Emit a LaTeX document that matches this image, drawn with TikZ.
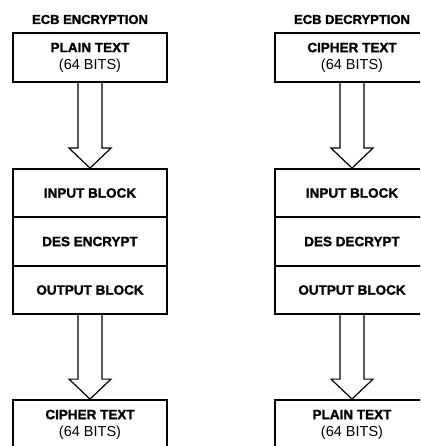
\documentclass[tikz,border=0pt]{standalone}
\usepackage{fontspec}
\setmainfont{Liberation Sans}[BoldFeatures={FakeBold=1.6}]
\usetikzlibrary{calc}
\newcommand\blockarrow[2]{%
  \draw[hollowarrow] ($(#1.south)+(-12,0)$) -- ($(#2.north)+(-12,-20)$) -- ($(#2.north)+(-21,-20)$) -- (#2.north) -- ($(#2.north)+(21,-20)$) -- ($(#2.north)+(12,-20)$) -- ($(#1.south)+(12,0)$);}
\newcommand\bitsline{{\mdseries\fontsize{14.5}{17}\selectfont(64 BITS)}}
\begin{document}
\begin{tikzpicture}[x=1pt,y=-1pt,
  box/.style={draw, line width=1.8pt, minimum width=154pt, align=center, inner sep=0pt,
    font=\bfseries\fontsize{13.5}{17}\selectfont},
  title/.style={font=\bfseries\fontsize{13}{15}\selectfont, anchor=base},
  hollowarrow/.style={draw, line width=1.2pt, line join=miter}]
\clip (0,0) rectangle (420,446);
% left column
\node[title] (t1) at (90,24) {ECB ENCRYPTION};
\node[box, minimum height=49pt] (p1) at (90,57.5) {PLAIN TEXT\\\bitsline};
\node[box, minimum height=48pt] (i1) at (90,193) {INPUT BLOCK};
\node[box, minimum height=49pt] (d1) at (90,241.5) {DES ENCRYPT};
\node[box, minimum height=48pt] (o1) at (90,290) {OUTPUT BLOCK};
\node[box, minimum height=49pt] (c1) at (90,424.5) {CIPHER TEXT\\\bitsline};
\blockarrow{p1}{i1}
\blockarrow{o1}{c1}
% right column
\node[title] (t2) at (352,24) {ECB DECRYPTION};
\node[box, minimum height=49pt] (c2) at (352,57.5) {CIPHER TEXT\\\bitsline};
\node[box, minimum height=48pt] (i2) at (352,193) {INPUT BLOCK};
\node[box, minimum height=49pt] (d2) at (352,241.5) {DES DECRYPT};
\node[box, minimum height=48pt] (o2) at (352,290) {OUTPUT BLOCK};
\node[box, minimum height=49pt] (p2) at (352,424.5) {PLAIN TEXT\\\bitsline};
\blockarrow{c2}{i2}
\blockarrow{o2}{p2}
\end{tikzpicture}
\end{document}
